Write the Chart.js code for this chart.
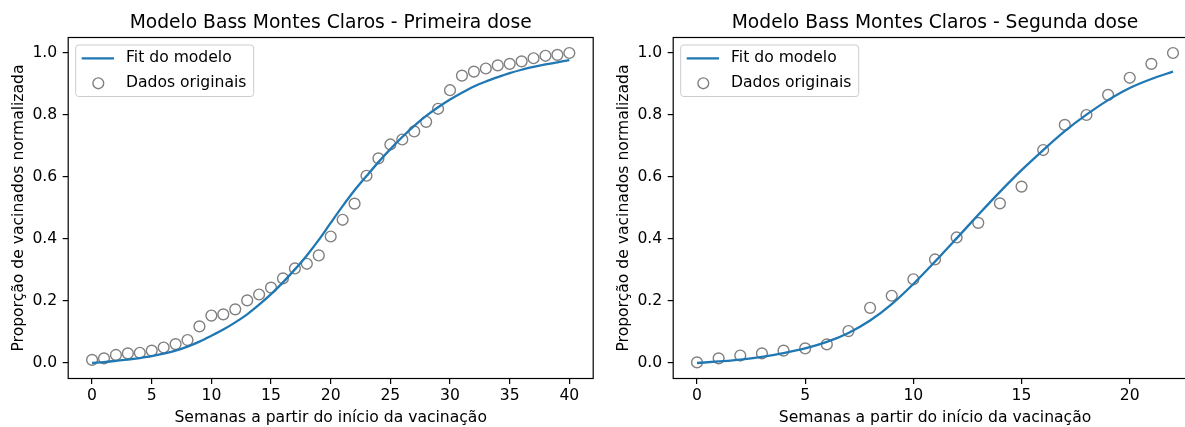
<!DOCTYPE html>
<html lang="pt-BR">
<head>
<meta charset="utf-8">
<title>Modelo Bass Montes Claros</title>
<script src="https://cdn.jsdelivr.net/npm/chart.js@4.4.1/dist/chart.umd.min.js"></script>
<style>
  html, body { margin: 0; padding: 0; background: #fff; }
  body { width: 1185px; height: 427px; overflow: hidden; position: relative; }
  canvas { position: absolute; top: 0; }
  #dose1 { left: 0; }
  #dose2 { left: 605px; }
</style>
</head>
<body>
<canvas id="dose1" width="600" height="427"></canvas>
<canvas id="dose2" width="600" height="427"></canvas>
<script>
'use strict';

// primeira dose: semanas, dados originais e curva ajustada
const weeksDose1 = [0, 1, 2, 3, 4, 5, 6, 7, 8, 9, 10, 11, 12, 13, 14, 15, 16, 17, 18, 19, 20,
  21, 22, 23, 24, 25, 26, 27, 28, 29, 30, 31, 32, 33, 34, 35, 36, 37, 38, 39, 40];
const dataDose1 = [0.010, 0.015, 0.026, 0.031, 0.033, 0.040, 0.050, 0.061, 0.074, 0.118, 0.153,
  0.157, 0.173, 0.202, 0.221, 0.243, 0.273, 0.305, 0.320, 0.347, 0.408,
  0.462, 0.514, 0.604, 0.660, 0.705, 0.721, 0.747, 0.778, 0.820, 0.880,
  0.927, 0.940, 0.950, 0.960, 0.965, 0.973, 0.983, 0.991, 0.994, 1.000];
const fitDose1 = [0.000, 0.003, 0.007, 0.011, 0.016, 0.022, 0.030, 0.040, 0.053, 0.069, 0.088,
  0.108, 0.131, 0.157, 0.188, 0.222, 0.260, 0.302, 0.347, 0.397, 0.452,
  0.506, 0.557, 0.603, 0.648, 0.690, 0.729, 0.765, 0.797, 0.825, 0.850,
  0.872, 0.892, 0.908, 0.922, 0.935, 0.946, 0.955, 0.963, 0.970, 0.977];

// segunda dose
const weeksDose2 = [0, 1, 2, 3, 4, 5, 6, 7, 8, 9, 10, 11, 12, 13, 14, 15, 16, 17, 18, 19, 20, 21, 22];
const dataDose2 = [0.002, 0.015, 0.024, 0.031, 0.040, 0.047, 0.060, 0.103, 0.178, 0.217, 0.270,
  0.334, 0.405, 0.452, 0.515, 0.569, 0.687, 0.768, 0.800, 0.865, 0.920, 0.965, 1.000];
const fitDose2 = [0.000, 0.005, 0.011, 0.020, 0.032, 0.047, 0.068, 0.097, 0.137, 0.190, 0.255,
  0.327, 0.402, 0.478, 0.552, 0.622, 0.687, 0.748, 0.801, 0.848, 0.887, 0.916, 0.940];

const xTicksDose1 = [0, 5, 10, 15, 20, 25, 30, 35, 40];
const xTicksDose2 = [0, 5, 10, 15, 20];
const yTicks = [0, 0.2, 0.4, 0.6, 0.8, 1.0];
const yTickLabels = ['0.0', '0.2', '0.4', '0.6', '0.8', '1.0'];

const titles = ['Modelo Bass Montes Claros - Primeira dose', 'Modelo Bass Montes Claros - Segunda dose'];
const legendLabels = ['Fit do modelo', 'Dados originais'];
const xLabel = 'Semanas a partir do início da vacinação';
const yLabel = 'Proporção de vacinados normalizada';

const FONT = '"DejaVu Sans", sans-serif';

// moldura, título e legenda desenhados dentro da área do gráfico (estilo matplotlib)
const frameAndLegend = {
  id: 'frameAndLegend',
  afterDatasetsDraw(chart, args, opts) {
    const { ctx, chartArea: a } = chart;
    ctx.save();
    ctx.strokeStyle = '#000';
    ctx.lineWidth = 1.2;
    ctx.strokeRect(a.left, a.top, a.right - a.left, a.bottom - a.top);

    ctx.fillStyle = '#000';
    ctx.font = `18.7px ${FONT}`;
    ctx.textAlign = 'center';
    ctx.textBaseline = 'middle';
    ctx.fillText(opts.title, (a.left + a.right) / 2, 23);

    // caixa da legenda
    let bx = a.left + 7.5, by = a.top + 7.5;
    ctx.beginPath();
    ctx.roundRect(bx, by, 178, 51.5, 3);
    ctx.fillStyle = 'rgba(255,255,255,0.8)';
    ctx.fill();
    ctx.strokeStyle = '#cccccc';
    ctx.lineWidth = 1;
    ctx.stroke();

    let fit = chart.data.datasets[0];
    let pts = chart.data.datasets[1];
    ctx.strokeStyle = fit.borderColor;
    ctx.lineWidth = fit.borderWidth;
    ctx.beginPath();
    ctx.moveTo(bx + 6, by + 13.3);
    ctx.lineTo(bx + 38.3, by + 13.3);
    ctx.stroke();

    ctx.strokeStyle = pts.borderColor;
    ctx.lineWidth = pts.borderWidth;
    ctx.beginPath();
    ctx.arc(bx + 22.6, by + 38.3, pts.pointRadius, 0, Math.PI * 2);
    ctx.stroke();

    ctx.fillStyle = '#000';
    ctx.font = `15.6px ${FONT}`;
    ctx.textAlign = 'left';
    ctx.fillText(fit.label, bx + 50.3, by + 13.3);
    ctx.fillText(pts.label, bx + 50.3, by + 38.3);
    ctx.restore();
  }
};

function axisStyle() {
  return {
    grid: { drawOnChartArea: false, drawTicks: true, tickLength: 5.5, color: '#000', lineWidth: 1.2 },
    border: { display: false },
  };
}

function makeChart(id, weeks, data, fit, xMin, xMax, xTicks, title, padRight) {
  let fitPoints = weeks.map((w, i) => ({ x: w, y: fit[i] }));
  let dataPoints = weeks.map((w, i) => ({ x: w, y: data[i] }));

  return new Chart(document.getElementById(id), {
    type: 'line',
    data: {
      datasets: [{
        label: legendLabels[0],
        data: fitPoints,
        borderColor: '#1f77b4',
        borderWidth: 2.3,
        pointRadius: 0,
        cubicInterpolationMode: 'monotone',
        fill: false
      }, {
        type: 'scatter',
        label: legendLabels[1],
        data: dataPoints,
        showLine: false,
        borderColor: '#808080',
        backgroundColor: 'rgba(0,0,0,0)',
        borderWidth: 1.4,
        pointRadius: 5.4
      }]
    },
    options: {
      responsive: false,
      animation: false,
      devicePixelRatio: 1,
      layout: { padding: { top: 37.5, right: padRight, bottom: 0, left: 0 } },
      plugins: {
        legend: { display: false },
        tooltip: { enabled: false },
        frameAndLegend: { title: title }
      },
      scales: {
        x: {
          type: 'linear',
          min: xMin,
          max: xMax,
          afterFit: s => { s.height = 48.5; },
          afterBuildTicks: s => { s.ticks = xTicks.map(v => ({ value: v })); },
          ...axisStyle(),
          ticks: { padding: 2.5, color: '#000', font: { family: FONT, size: 15.6 }, maxRotation: 0, autoSkip: false, callback: v => String(v) },
          title: { display: true, text: xLabel, color: '#000', font: { family: FONT, size: 15.6 }, padding: { top: 0, bottom: 0 } }
        },
        y: {
          type: 'linear',
          min: -0.05,
          max: 1.05,
          afterFit: s => { s.width = 68.2; },
          afterBuildTicks: s => { s.ticks = yTicks.map(v => ({ value: v })); },
          ...axisStyle(),
          ticks: { padding: 5.5, color: '#000', font: { family: FONT, size: 15.6 }, callback: (v, i) => yTickLabels[i] },
          title: { display: true, text: yLabel, color: '#000', font: { family: FONT, size: 15.6 }, padding: { top: 10, bottom: 0 } }
        }
      }
    },
    plugins: [frameAndLegend]
  });
}

makeChart('dose1', weeksDose1, dataDose1, fitDose1, -2, 42, xTicksDose1, titles[0], 6);
makeChart('dose2', weeksDose2, dataDose2, fitDose2, -1.1, 23.1, xTicksDose2, titles[1], 8.2);
</script>
</body>
</html>
